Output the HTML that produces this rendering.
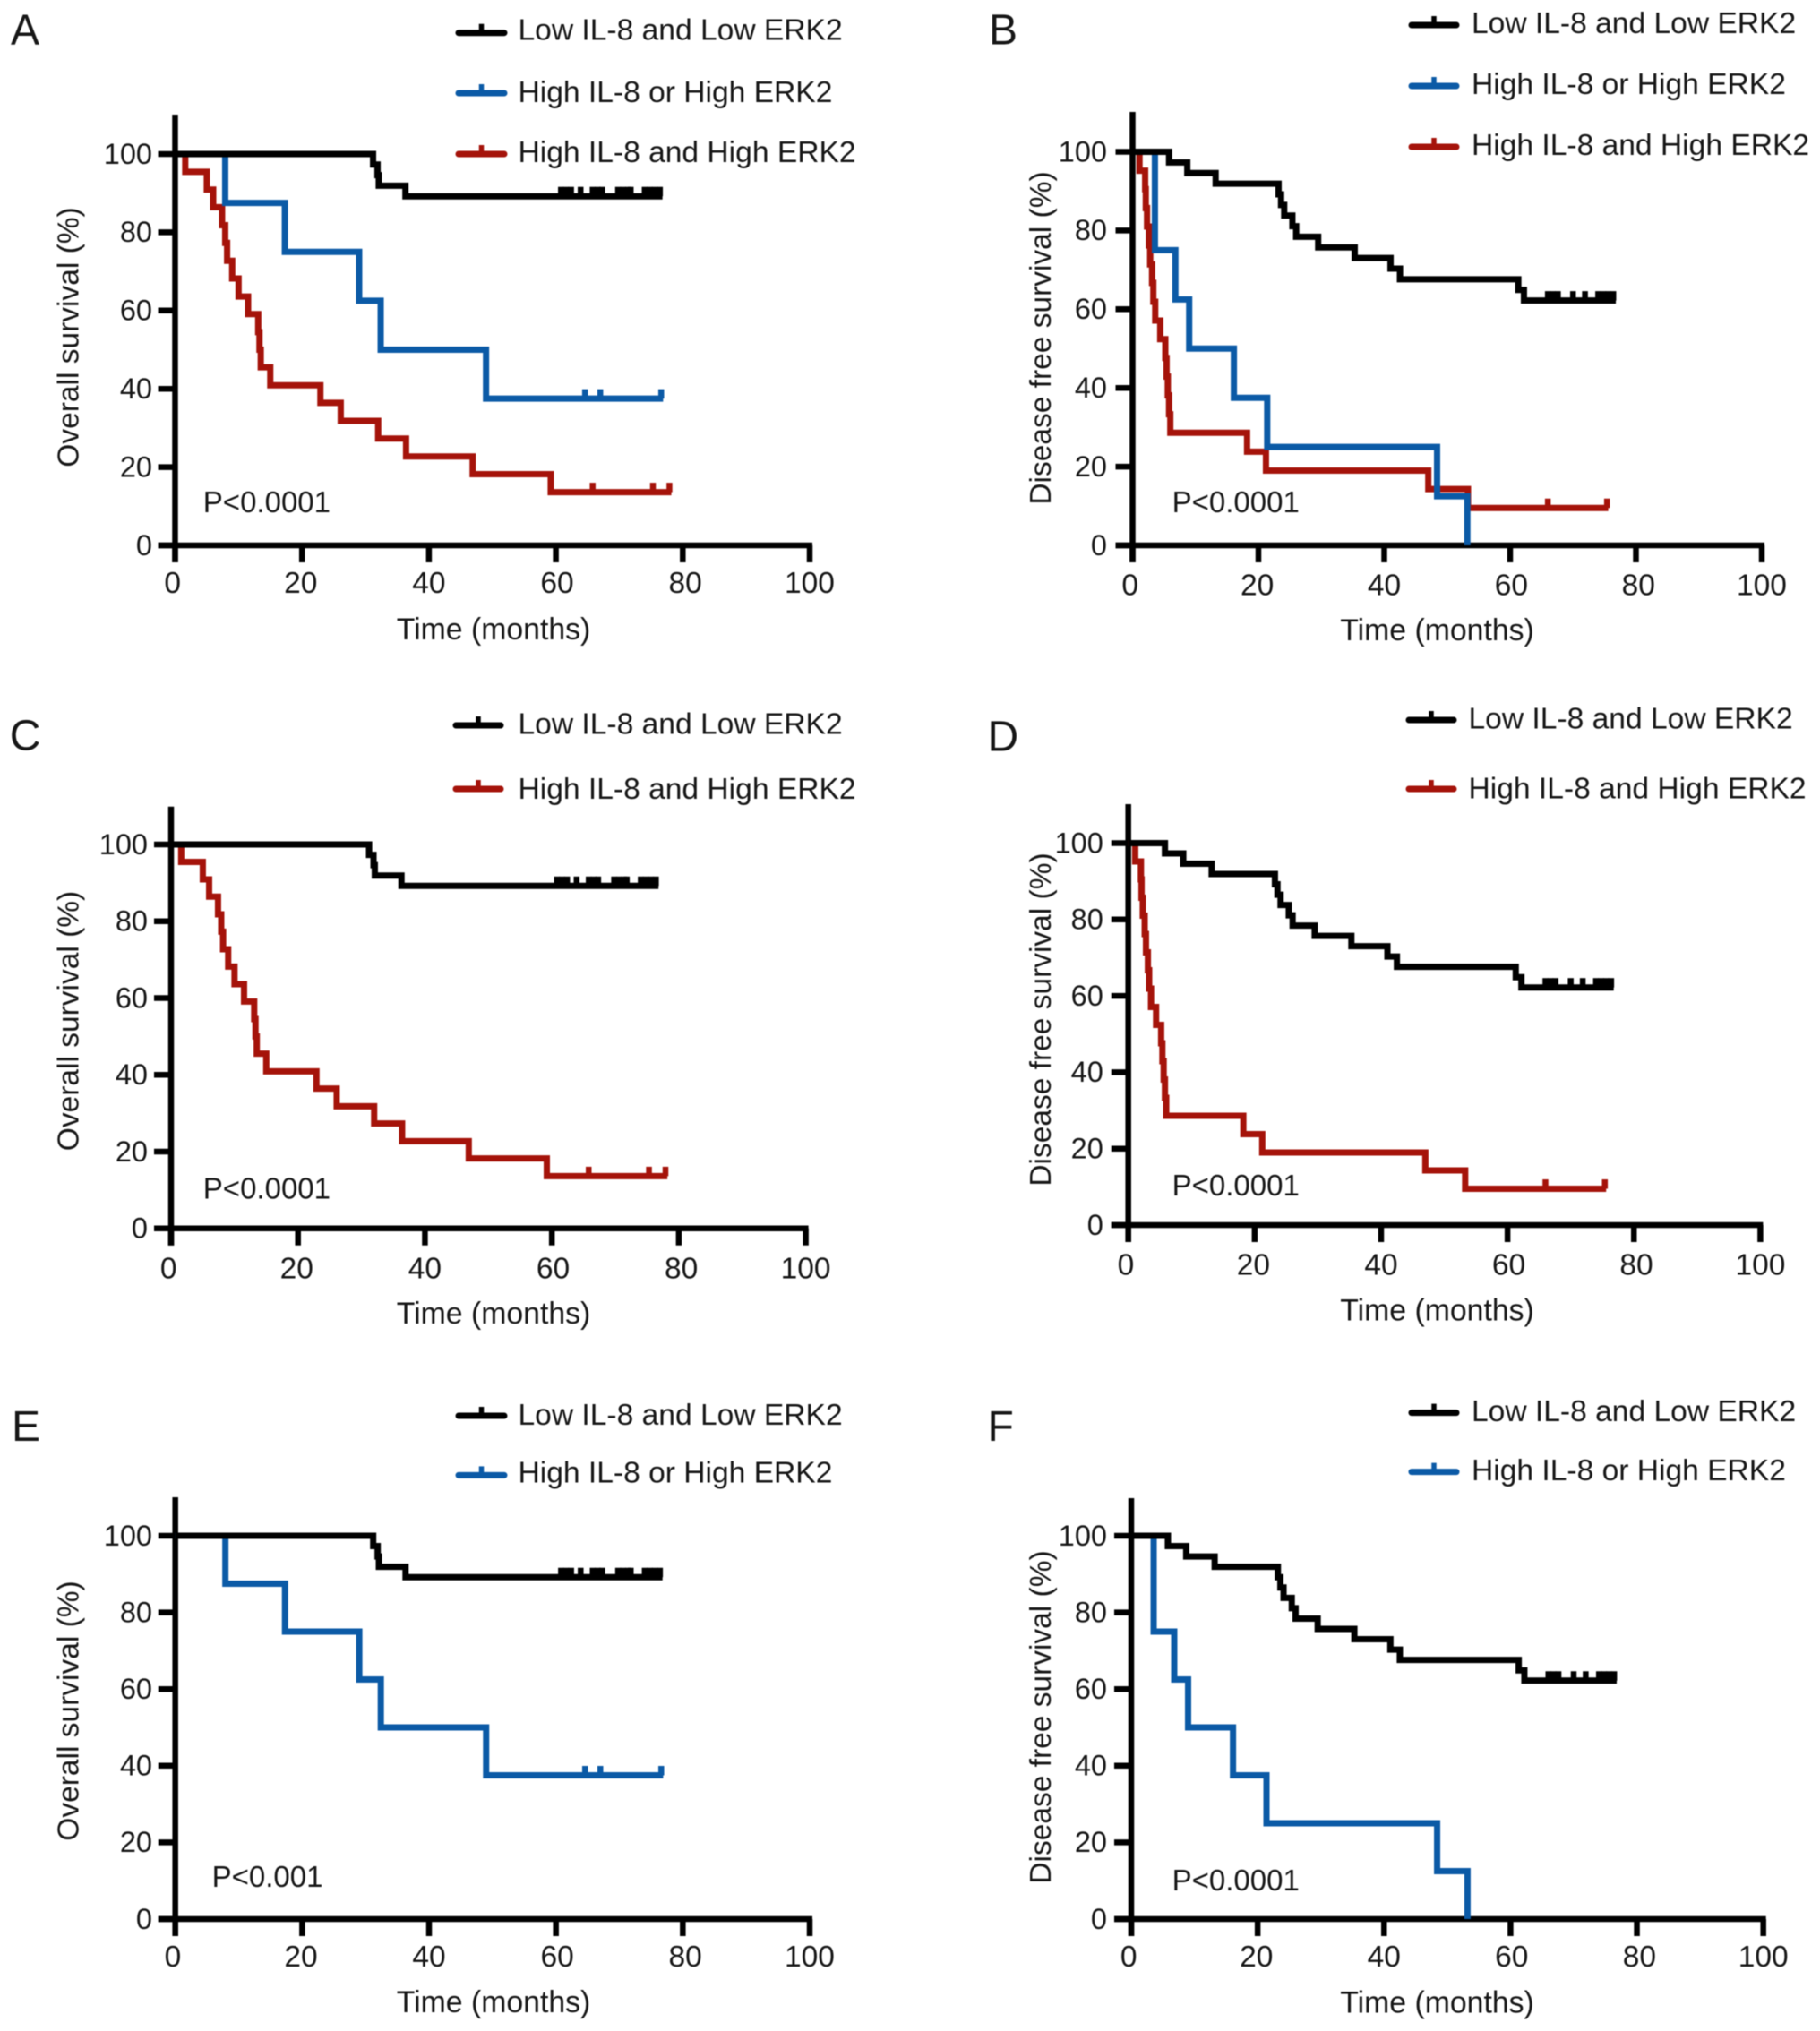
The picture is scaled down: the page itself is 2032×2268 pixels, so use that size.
<!DOCTYPE html>
<html lang="en">
<head>
<meta charset="utf-8">
<title>Kaplan-Meier survival curves by IL-8 and ERK2 expression</title>
<style>
html,body{margin:0;padding:0;background:#fff;}
svg{display:block;filter:blur(0.6px);}
text{font-family:"Liberation Sans",Arial,sans-serif;fill:#161616;}
</style>
</head>
<body>
<svg id="figure" xmlns="http://www.w3.org/2000/svg" width="2032" height="2268" viewBox="0 0 2032 2268"></svg>
<script>
// ---- axis tick labels ----
const xTicks = [0, 20, 40, 60, 80, 100];
const yTicks = [0, 20, 40, 60, 80, 100];

// ---- overall survival data ----
const osLowTimes = [31.2, 31.9, 32.1, 36.3, 76.8];
const osLowValues = [97.3, 94.6, 91.9, 89.2, 89.2];
const osLowCensors = [60.8, 61.6, 62.4, 63.9, 65.8, 66.6, 67.3, 69.8, 70.6, 71.4, 71.8, 74, 74.8, 75.6, 76.4];

const osEitherTimes = [7.9, 17.3, 29, 32.4, 49, 76.9];
const osEitherValues = [87.5, 75, 62.5, 50, 37.5, 37.5];
const osEitherCensors = [64.6, 67, 76.6];

const osHighTimes = [1.6, 5, 6, 7.4, 7.9, 8.2, 9, 10, 11.5, 13.1, 13.3, 13.5, 15, 22.9, 26.1, 32, 36.4, 46.9, 59.2, 78.2];
const osHighValues = [95.45, 90.9, 86.4, 81.8, 77.3, 72.7, 68.2, 63.6, 59.1, 54.5, 50, 45.5, 40.9, 36.4, 31.8, 27.3, 22.7, 18.2, 13.6, 13.6];
const osHighCensors = [65.8, 75.3, 77.9];

// ---- disease free survival data ----
const dfsLowTimes = [5.8, 8.7, 13.2, 23.2, 23.6, 24.1, 25.4, 26, 29.5, 35.3, 41, 42.5, 61.3, 62.2, 76.8];
const dfsLowValues = [97.3, 94.6, 91.9, 89.2, 86.5, 83.8, 81.1, 78.4, 75.7, 73, 70.3, 67.6, 64.9, 62.2, 62.2];
const dfsLowCensors = [66, 66.8, 67.6, 70, 71.9, 74, 74.8, 75.6, 76.4];

const dfsEitherTimes = [3.55, 6.8, 9, 16.1, 21.4, 48.4, 53.2];
const dfsEitherValues = [75, 62.5, 50, 37.5, 25, 12.5, 0];
const dfsEitherCensors = [];

const dfsHighTimes = [1.1, 2, 2.1, 2.3, 2.6, 2.8, 3.1, 3.3, 3.6, 4.4, 5.2, 5.4, 5.6, 5.8, 6, 18.2, 21.2, 47, 53.3, 75.6];
const dfsHighValues = [95.2, 90.5, 85.7, 81, 76.2, 71.4, 66.7, 61.9, 57.1, 52.4, 47.6, 42.9, 38.1, 33.3, 28.6, 23.8, 19, 14.3, 9.5, 9.5];
const dfsHighCensors = [66, 75.4];

// ---- series lookups ----
const lowLabel = 'Low IL-8 and Low ERK2';
const eitherLabel = 'High IL-8 or High ERK2';
const highLabel = 'High IL-8 and High ERK2';
const colorLow = '#000000';
const colorEither = '#0b5aa6';
const colorHigh = '#a5130a';

const osLow = {t: osLowTimes, v: osLowValues, c: osLowCensors, color: colorLow, label: lowLabel, id: 'low'};
const osEither = {t: osEitherTimes, v: osEitherValues, c: osEitherCensors, color: colorEither, label: eitherLabel, id: 'either-high'};
const osHigh = {t: osHighTimes, v: osHighValues, c: osHighCensors, color: colorHigh, label: highLabel, id: 'both-high'};
const dfsLow = {t: dfsLowTimes, v: dfsLowValues, c: dfsLowCensors, color: colorLow, label: lowLabel, id: 'low'};
const dfsEither = {t: dfsEitherTimes, v: dfsEitherValues, c: dfsEitherCensors, color: colorEither, label: eitherLabel, id: 'either-high'};
const dfsHigh = {t: dfsHighTimes, v: dfsHighValues, c: dfsHighCensors, color: colorHigh, label: highLabel, id: 'both-high'};

const osTitle = 'Overall survival (%)';
const dfsTitle = 'Disease free survival (%)';

// ---- panel layouts ----
const panels = [
  {key:'a', x0:195.5, x100:904, y100:172, y0:609, top:128, ytitle:osTitle, ytx:87.5, yty:376.5,
   ylr:170, xlb:662, tcx:551, tb:714, p:'P<0.0001', px:226.8, pb:572, lx:12, lb:49.5,
   legX:[509,566], legTextX:578.5, legY:[36.7,104,172], legB:[44.5,114,181], series:[osLow,osEither,osHigh]},
  {key:'b', x0:1264.5, x100:1967, y100:169.5, y0:609, top:125, ytitle:dfsTitle, ytx:1173, yty:377.5,
   ylr:1236, xlb:664.5, tcx:1604.5, tb:715, p:'P<0.0001', px:1308.6, pb:572, lx:1104, lb:49.5,
   legX:[1573,1629], legTextX:1643, legY:[28,96,164], legB:[36.8,105,173], series:[dfsLow,dfsEither,dfsHigh]},
  {key:'c', x0:191, x100:899.6, y100:943, y0:1371.7, top:900.7, ytitle:osTitle, ytx:87.5, yty:1140,
   ylr:165, xlb:1427.5, tcx:551, tb:1478, p:'P<0.0001', px:226.8, pb:1338.7, lx:10.7, lb:837.5,
   legX:[506,562], legTextX:578.5, legY:[810,881], legB:[819.6,891.8], series:[osLow,osHigh]},
  {key:'d', x0:1259.7, x100:1965.4, y100:941.5, y0:1368, top:898, ytitle:dfsTitle, ytx:1173, yty:1138.5,
   ylr:1231.8, xlb:1423.7, tcx:1604.5, tb:1474.5, p:'P<0.0001', px:1308.6, pb:1335, lx:1102.5, lb:838.4,
   legX:[1570,1626], legTextX:1639.5, legY:[804,881], legB:[813.4,891.3], series:[dfsLow,dfsHigh]},
  {key:'e', x0:195.7, x100:904, y100:1715, y0:2143, top:1672, ytitle:osTitle, ytx:87.5, yty:1910.5,
   ylr:170, xlb:2195.8, tcx:551, tb:2247, p:'P<0.001', px:236.6, pb:2107, lx:13, lb:1609,
   legX:[509,566], legTextX:578.5, legY:[1581,1647.4], legB:[1590.8,1655.4], series:[osLow,osEither]},
  {key:'f', x0:1263, x100:1968.7, y100:1715, y0:2143, top:1673, ytitle:dfsTitle, ytx:1173, yty:1917.5,
   ylr:1236, xlb:2195.8, tcx:1604.5, tb:2247.7, p:'P<0.0001', px:1308.6, pb:2110.8, lx:1102.5, lb:1609,
   legX:[1573,1629], legTextX:1643, legY:[1577.6,1643.6], legB:[1587,1653], series:[dfsLow,dfsEither]}
];

const NS = 'http://www.w3.org/2000/svg';
const figure = document.getElementById('figure');

function mk(tag, attrs, parent) {
  const e = document.createElementNS(NS, tag);
  for (const k in attrs) e.setAttribute(k, attrs[k]);
  parent.appendChild(e);
  return e;
}

function valueAt(s, time) {
  let val = 100;
  for (let i = 0; i < s.t.length; i++) {
    if (s.t[i] <= time) val = s.v[i];
  }
  return val;
}

function drawPanel(P) {
  const sx = t => P.x0 + (P.x100 - P.x0) * t / 100;
  const sy = v => P.y0 - (P.y0 - P.y100) * v / 100;
  const labelShift = tick => (tick < 100 ? (tick - 40) * 0.07 : 0);

  const g = mk('g', {}, figure);
  
  

  // panel letter
  const letter = mk('text', {x: P.lx, y: P.lb, 'font-size': 48}, g);
  letter.textContent = P.key.toUpperCase();
  
  

  // axes
  const yAxis = mk('line', {x1: P.x0, x2: P.x0, y1: P.top, y2: P.y0 + 19, stroke: '#000', 'stroke-width': 6.5}, g);
  
  

  const xAxis = mk('line', {x1: P.x0 - 19, x2: P.x100 + 3, y1: P.y0, y2: P.y0, stroke: '#000', 'stroke-width': 6.5}, g);
  
  

  xTicks.forEach(tick => {
    const m = mk('line', {x1: sx(tick), x2: sx(tick), y1: P.y0, y2: P.y0 + 19, stroke: '#000', 'stroke-width': 6.5}, g);
    
    
    const l = mk('text', {x: sx(tick) + labelShift(tick), y: P.xlb, 'font-size': 33.5, 'text-anchor': 'middle'}, g);
    l.textContent = String(tick);
    
    
  });

  yTicks.forEach(tick => {
    const m = mk('line', {x1: P.x0 - 19, x2: P.x0, y1: sy(tick), y2: sy(tick), stroke: '#000', 'stroke-width': 6.5}, g);
    
    
    const l = mk('text', {x: P.ylr, y: sy(tick) + 10.8, 'font-size': 32.5, 'text-anchor': 'end'}, g);
    l.textContent = String(tick);
    
    
  });

  // axis titles
  const xTitle = mk('text', {x: P.tcx, y: P.tb, 'font-size': 33.8, 'text-anchor': 'middle'}, g);
  xTitle.textContent = 'Time (months)';
  
  

  const yTitle = mk('text', {x: P.ytx, y: P.yty, 'font-size': 33.5, 'text-anchor': 'middle',
    transform: 'rotate(-90 ' + P.ytx + ' ' + P.yty + ')'}, g);
  yTitle.textContent = P.ytitle;
  
  

  // p value
  const pv = mk('text', {x: P.px, y: P.pb, 'font-size': 33}, g);
  pv.textContent = P.p;
  
  

  // curves: draw high groups first so the low group sits on top
  const order = P.series.slice();
  const sortRank = s => (s.id === 'both-high' ? 0 : s.id === 'either-high' ? 1 : 2);
  order.sort((a, b) => sortRank(a) - sortRank(b));
  order.forEach(s => {
    let d = 'M' + sx(0) + ' ' + sy(100);
    s.t.forEach((time, i) => {
      d += ' H' + sx(time) + ' V' + sy(s.v[i]);
    });
    const curve = mk('path', {d: d, fill: 'none', stroke: s.color, 'stroke-width': 7, 'stroke-linejoin': 'miter'}, g);
    
    

    s.c.forEach(time => {
      const yy = sy(valueAt(s, time));
      const cm = mk('line', {x1: sx(time), x2: sx(time), y1: yy, y2: yy - 10.5, stroke: s.color, 'stroke-width': 6.5}, g);
      
      
    });
  });

  // legend
  P.series.forEach((s, i) => {
    const entry = mk('g', {}, g);
    
    

    const swatch = mk('line', {x1: P.legX[0] + 3, x2: P.legX[1] - 3, y1: P.legY[i], y2: P.legY[i],
      stroke: s.color, 'stroke-width': 7, 'stroke-linecap': 'round'}, entry);
    
    

    const mid = (P.legX[0] + P.legX[1]) / 2;
    const tickMark = mk('line', {x1: mid, x2: mid, y1: P.legY[i], y2: P.legY[i] - 10, stroke: s.color, 'stroke-width': 5.5}, entry);
    
    

    const label = mk('text', {x: P.legTextX, y: P.legB[i], 'font-size': 33.6}, entry);
    label.textContent = s.label;
    
    
  });
}

panels.forEach(drawPanel);
</script>
</body>
</html>
